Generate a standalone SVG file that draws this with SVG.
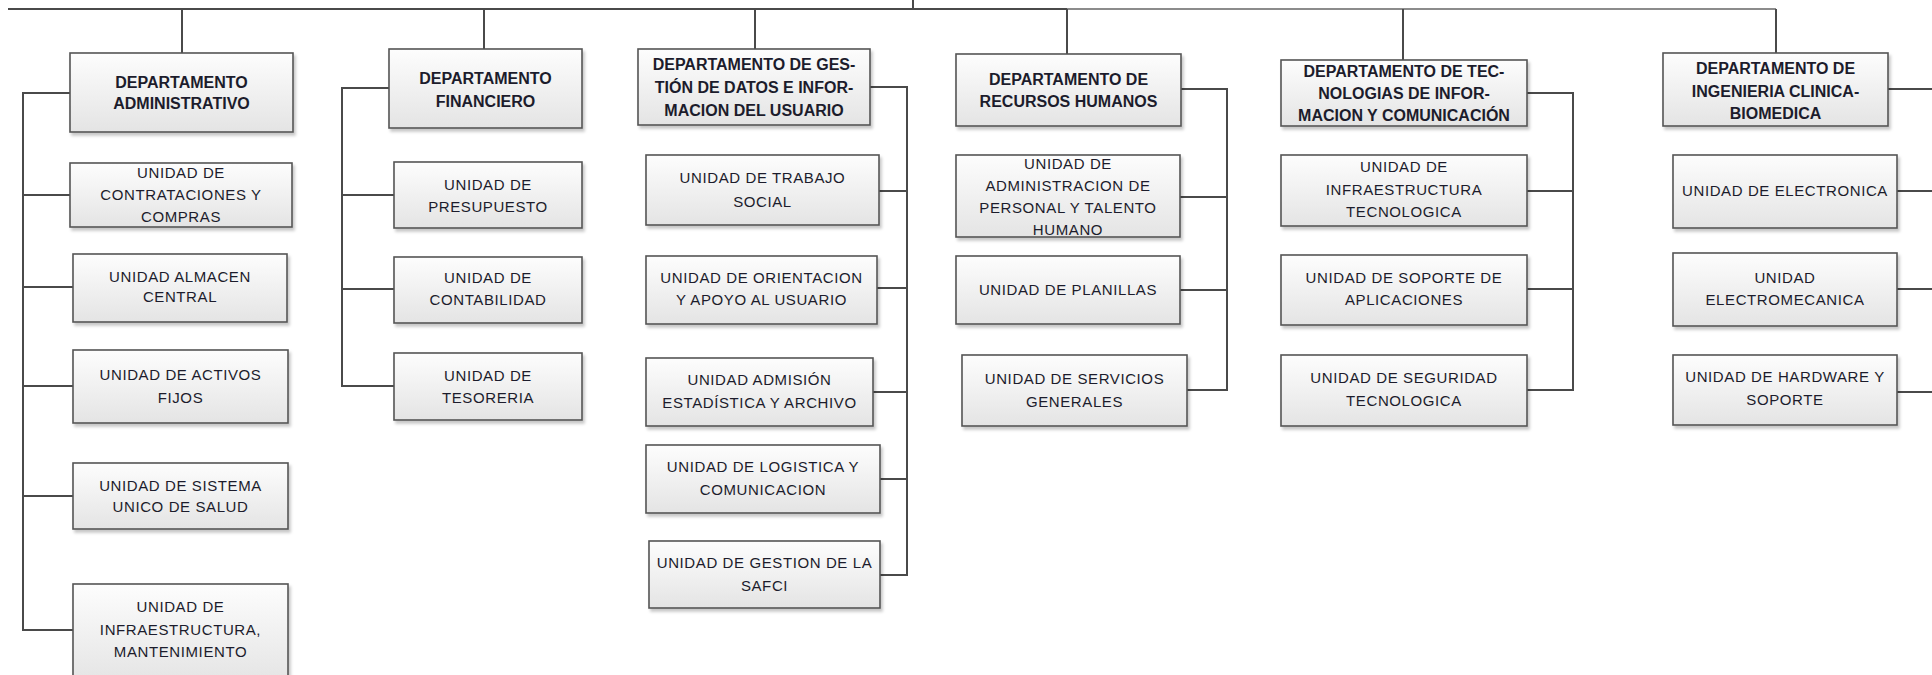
<svg xmlns="http://www.w3.org/2000/svg" width="1932" height="675" viewBox="0 0 1932 675">
<defs>
<linearGradient id="g" x1="0" y1="0" x2="0" y2="1">
<stop offset="0" stop-color="#fdfdfd"/>
<stop offset="1" stop-color="#e4e4e4"/>
</linearGradient>
<filter id="sh" x="-5%" y="-5%" width="112%" height="125%">
<feDropShadow dx="2" dy="3" stdDeviation="1.5" flood-color="#000" flood-opacity="0.22"/>
</filter>
<style>
.box{fill:url(#g);stroke:#555;stroke-width:1.6;filter:url(#sh)}
.dt{font-family:"Liberation Sans",Arial,sans-serif;font-weight:bold;font-size:16px;fill:#1c1c2c;text-anchor:middle}
.ut{font-family:"Liberation Sans",Arial,sans-serif;font-size:15px;letter-spacing:0.6px;fill:#1c1c2c;text-anchor:middle}
.c{fill:none;stroke:#4a4a4a;stroke-width:2}
.cl{fill:none;stroke:#8c8c8c;stroke-width:2}
</style>
</defs>
<rect width="1932" height="675" fill="#fff"/>
<g id="connectors">
<path class="c" d="M913 0V9M8 9H1067"/>
<path class="cl" d="M1067 9H1776"/>
<path class="c" d="M182 9V53M484 9V49M755 9V49M1067 9V54M1403 9V60M1776 9V53"/>
<path class="c" d="M70 93H23V630H73M23 195H70M23 287H73M23 386H73M23 496H73"/>
<path class="c" d="M389 88H342V386H394M342 195H394M342 289H394"/>
<path class="c" d="M870 87H907V575H880M879 191H907M877 288H907M873 392H907M880 479H907"/>
<path class="c" d="M1181 89H1227V390H1187M1180 197H1227M1180 290H1227"/>
<path class="c" d="M1527 93H1573V390H1527M1527 191H1573M1527 289H1573"/>
<path class="c" d="M1888 89H1932M1897 191H1932M1897 289H1932M1897 392H1932"/>
</g>
<g id="dep-admin"><rect class="box" x="70" y="53" width="223" height="79"/><text class="dt" x="181.5" y="88">DEPARTAMENTO</text><text class="dt" x="181.5" y="109">ADMINISTRATIVO</text></g>
<g id="u-contrataciones"><rect class="box" x="70" y="163" width="222" height="64"/><text class="ut" x="181" y="178">UNIDAD DE</text><text class="ut" x="181" y="200">CONTRATACIONES Y</text><text class="ut" x="181" y="222">COMPRAS</text></g>
<g id="u-almacen"><rect class="box" x="73" y="254" width="214" height="68"/><text class="ut" x="180" y="282">UNIDAD  ALMACEN</text><text class="ut" x="180" y="302">CENTRAL</text></g>
<g id="u-activos"><rect class="box" x="73" y="350" width="215" height="73"/><text class="ut" x="180.5" y="380">UNIDAD DE ACTIVOS</text><text class="ut" x="180.5" y="403">FIJOS</text></g>
<g id="u-sus"><rect class="box" x="73" y="463" width="215" height="66"/><text class="ut" x="180.5" y="491">UNIDAD  DE SISTEMA</text><text class="ut" x="180.5" y="512">UNICO DE SALUD</text></g>
<g id="u-infra-mant"><rect class="box" x="73" y="584" width="215" height="100"/><text class="ut" x="180.5" y="612">UNIDAD DE</text><text class="ut" x="180.5" y="635">INFRAESTRUCTURA,</text><text class="ut" x="180.5" y="657">MANTENIMIENTO</text></g>
<g id="dep-fin"><rect class="box" x="389" y="49" width="193" height="79"/><text class="dt" x="485.5" y="84">DEPARTAMENTO</text><text class="dt" x="485.5" y="107">FINANCIERO</text></g>
<g id="u-presupuesto"><rect class="box" x="394" y="162" width="188" height="66"/><text class="ut" x="488" y="190">UNIDAD DE</text><text class="ut" x="488" y="212">PRESUPUESTO</text></g>
<g id="u-contabilidad"><rect class="box" x="394" y="257" width="188" height="66"/><text class="ut" x="488" y="283">UNIDAD DE</text><text class="ut" x="488" y="305">CONTABILIDAD</text></g>
<g id="u-tesoreria"><rect class="box" x="394" y="353" width="188" height="67"/><text class="ut" x="488" y="381">UNIDAD DE</text><text class="ut" x="488" y="403">TESORERIA</text></g>
<g id="dep-gestion"><rect class="box" x="638" y="49" width="232" height="76"/><text class="dt" x="754" y="70">DEPARTAMENTO DE GES-</text><text class="dt" x="754" y="93">TIÓN DE DATOS E INFOR-</text><text class="dt" x="754" y="116">MACION DEL USUARIO</text></g>
<g id="u-trabajo"><rect class="box" x="646" y="155" width="233" height="70"/><text class="ut" x="762.5" y="183">UNIDAD DE TRABAJO</text><text class="ut" x="762.5" y="207">SOCIAL</text></g>
<g id="u-orientacion"><rect class="box" x="646" y="256" width="231" height="68"/><text class="ut" x="761.5" y="283">UNIDAD DE ORIENTACION</text><text class="ut" x="761.5" y="305">Y APOYO  AL USUARIO</text></g>
<g id="u-admision"><rect class="box" x="646" y="358" width="227" height="68"/><text class="ut" x="759.5" y="385">UNIDAD  ADMISIÓN</text><text class="ut" x="759.5" y="408">ESTADÍSTICA Y ARCHIVO</text></g>
<g id="u-logistica"><rect class="box" x="646" y="445" width="234" height="68"/><text class="ut" x="763" y="472">UNIDAD DE LOGISTICA Y</text><text class="ut" x="763" y="495">COMUNICACION</text></g>
<g id="u-safci"><rect class="box" x="649" y="541" width="231" height="67"/><text class="ut" x="764.5" y="568">UNIDAD DE GESTION DE LA</text><text class="ut" x="764.5" y="591">SAFCI</text></g>
<g id="dep-rrhh"><rect class="box" x="956" y="54" width="225" height="72"/><text class="dt" x="1068.5" y="85">DEPARTAMENTO DE</text><text class="dt" x="1068.5" y="107">RECURSOS HUMANOS</text></g>
<g id="u-personal"><rect class="box" x="956" y="155" width="224" height="82"/><text class="ut" x="1068" y="169">UNIDAD DE</text><text class="ut" x="1068" y="191">ADMINISTRACION DE</text><text class="ut" x="1068" y="213">PERSONAL Y TALENTO</text><text class="ut" x="1068" y="235">HUMANO</text></g>
<g id="u-planillas"><rect class="box" x="956" y="256" width="224" height="68"/><text class="ut" x="1068" y="295">UNIDAD DE PLANILLAS</text></g>
<g id="u-servicios"><rect class="box" x="962" y="355" width="225" height="71"/><text class="ut" x="1074.5" y="384">UNIDAD DE SERVICIOS</text><text class="ut" x="1074.5" y="407">GENERALES</text></g>
<g id="dep-tic"><rect class="box" x="1281" y="60" width="246" height="66"/><text class="dt" x="1404" y="77">DEPARTAMENTO DE TEC-</text><text class="dt" x="1404" y="99">NOLOGIAS DE INFOR-</text><text class="dt" x="1404" y="121">MACION Y COMUNICACIÓN</text></g>
<g id="u-infra-tec"><rect class="box" x="1281" y="155" width="246" height="71"/><text class="ut" x="1404" y="172">UNIDAD DE</text><text class="ut" x="1404" y="195">INFRAESTRUCTURA</text><text class="ut" x="1404" y="217">TECNOLOGICA</text></g>
<g id="u-soporte-app"><rect class="box" x="1281" y="255" width="246" height="70"/><text class="ut" x="1404" y="283">UNIDAD DE SOPORTE DE</text><text class="ut" x="1404" y="305">APLICACIONES</text></g>
<g id="u-seguridad"><rect class="box" x="1281" y="355" width="246" height="71"/><text class="ut" x="1404" y="383">UNIDAD DE SEGURIDAD</text><text class="ut" x="1404" y="406">TECNOLOGICA</text></g>
<g id="dep-ing"><rect class="box" x="1663" y="53" width="225" height="73"/><text class="dt" x="1775.5" y="74">DEPARTAMENTO DE</text><text class="dt" x="1775.5" y="97">INGENIERIA CLINICA-</text><text class="dt" x="1775.5" y="119">BIOMEDICA</text></g>
<g id="u-electronica"><rect class="box" x="1673" y="155" width="224" height="73"/><text class="ut" x="1785" y="196">UNIDAD DE ELECTRONICA</text></g>
<g id="u-electromecanica"><rect class="box" x="1673" y="253" width="224" height="73"/><text class="ut" x="1785" y="283">UNIDAD</text><text class="ut" x="1785" y="305">ELECTROMECANICA</text></g>
<g id="u-hardware"><rect class="box" x="1673" y="355" width="224" height="70"/><text class="ut" x="1785" y="382">UNIDAD DE HARDWARE Y</text><text class="ut" x="1785" y="405">SOPORTE</text></g>
</svg>
